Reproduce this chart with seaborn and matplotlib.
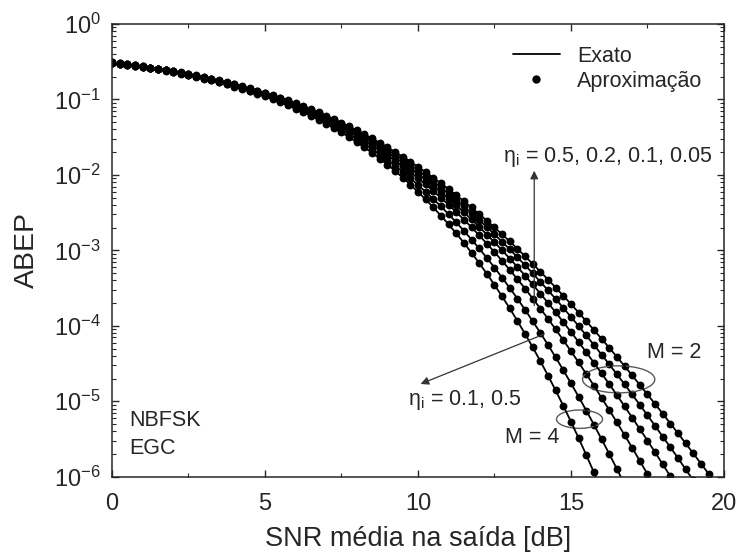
import matplotlib
matplotlib.use('Agg')
import matplotlib.pyplot as plt
import seaborn as sns
import pandas as pd
from matplotlib.patches import Ellipse
from matplotlib.lines import Line2D

sns.set_style('ticks')
plt.rcParams['font.family'] = ['Liberation Sans', 'DejaVu Sans']
plt.rcParams['mathtext.fontset'] = 'custom'
plt.rcParams['mathtext.rm'] = 'Liberation Sans'
plt.rcParams['mathtext.it'] = 'Liberation Sans'

# SNR grid (dB), one point every 0.25 dB
snr_db = [0.00, 0.25, 0.50, 0.75, 1.00, 1.25, 1.50, 1.75, 2.00, 2.25,
          2.50, 2.75, 3.00, 3.25, 3.50, 3.75, 4.00, 4.25, 4.50, 4.75,
          5.00, 5.25, 5.50, 5.75, 6.00, 6.25, 6.50, 6.75, 7.00, 7.25,
          7.50, 7.75, 8.00, 8.25, 8.50, 8.75, 9.00, 9.25, 9.50, 9.75,
          10.00, 10.25, 10.50, 10.75, 11.00, 11.25, 11.50, 11.75, 12.00, 12.25,
          12.50, 12.75, 13.00, 13.25, 13.50, 13.75, 14.00, 14.25, 14.50, 14.75,
          15.00, 15.25, 15.50, 15.75, 16.00, 16.25, 16.50, 16.75, 17.00, 17.25,
          17.50, 17.75, 18.00, 18.25, 18.50, 18.75, 19.00, 19.25, 19.50, 19.75,
          20.00]

# M = 4, eta_i = 0.5
abep_m4_eta05 = [3.05e-1, 2.97e-1, 2.88e-1, 2.79e-1, 2.69e-1, 2.60e-1, 2.50e-1, 2.40e-1, 2.30e-1, 2.20e-1,
                 2.10e-1, 2.00e-1, 1.89e-1, 1.79e-1, 1.69e-1, 1.58e-1, 1.48e-1, 1.38e-1, 1.29e-1, 1.19e-1,
                 1.10e-1, 1.01e-1, 9.18e-2, 8.35e-2, 7.55e-2, 6.79e-2, 6.07e-2, 5.39e-2, 4.76e-2, 4.18e-2,
                 3.65e-2, 3.16e-2, 2.71e-2, 2.31e-2, 1.96e-2, 1.64e-2, 1.37e-2, 1.13e-2, 9.21e-3, 7.45e-3,
                 5.94e-3, 4.73e-3, 3.71e-3, 2.88e-3, 2.21e-3, 1.68e-3, 1.26e-3, 9.29e-4, 6.79e-4, 4.90e-4,
                 3.49e-4, 2.45e-4, 1.70e-4, 1.16e-4, 7.82e-5, 5.19e-5, 3.40e-5, 2.19e-5, 1.39e-5, 8.70e-6,
                 5.36e-6, 3.25e-6, 1.94e-6, 1.14e-6, 6.63e-7]
# M = 4, eta_i = 0.1
abep_m4_eta01 = [3.06e-1, 2.98e-1, 2.89e-1, 2.80e-1, 2.70e-1, 2.61e-1, 2.51e-1, 2.42e-1, 2.32e-1, 2.22e-1,
                 2.12e-1, 2.02e-1, 1.91e-1, 1.81e-1, 1.71e-1, 1.61e-1, 1.51e-1, 1.41e-1, 1.31e-1, 1.22e-1,
                 1.13e-1, 1.04e-1, 9.50e-2, 8.67e-2, 7.87e-2, 7.11e-2, 6.39e-2, 5.71e-2, 5.08e-2, 4.49e-2,
                 3.94e-2, 3.44e-2, 2.99e-2, 2.57e-2, 2.20e-2, 1.87e-2, 1.58e-2, 1.32e-2, 1.10e-2, 9.03e-3,
                 7.35e-3, 5.98e-3, 4.80e-3, 3.82e-3, 3.01e-3, 2.35e-3, 1.82e-3, 1.39e-3, 1.06e-3, 7.95e-4,
                 5.91e-4, 4.35e-4, 3.17e-4, 2.29e-4, 1.63e-4, 1.15e-4, 8.06e-5, 5.58e-5, 3.82e-5, 2.58e-5,
                 1.73e-5, 1.15e-5, 7.54e-6, 4.90e-6, 3.15e-6, 2.01e-6, 1.27e-6, 7.90e-7]
# M = 2, eta_i = 0.5
abep_m2_eta05 = [3.07e-1, 2.99e-1, 2.90e-1, 2.81e-1, 2.72e-1, 2.63e-1, 2.53e-1, 2.43e-1, 2.34e-1, 2.24e-1,
                 2.14e-1, 2.04e-1, 1.94e-1, 1.84e-1, 1.74e-1, 1.64e-1, 1.54e-1, 1.44e-1, 1.34e-1, 1.25e-1,
                 1.16e-1, 1.07e-1, 9.84e-2, 9.01e-2, 8.21e-2, 7.45e-2, 6.73e-2, 6.05e-2, 5.42e-2, 4.82e-2,
                 4.27e-2, 3.75e-2, 3.29e-2, 2.86e-2, 2.47e-2, 2.13e-2, 1.82e-2, 1.54e-2, 1.30e-2, 1.09e-2,
                 9.02e-3, 7.46e-3, 6.11e-3, 4.97e-3, 4.02e-3, 3.22e-3, 2.56e-3, 2.02e-3, 1.58e-3, 1.23e-3,
                 9.49e-4, 7.26e-4, 5.51e-4, 4.15e-4, 3.11e-4, 2.30e-4, 1.69e-4, 1.24e-4, 8.97e-5, 6.45e-5,
                 4.61e-5, 3.27e-5, 2.30e-5, 1.61e-5, 1.11e-5, 7.68e-6, 5.26e-6, 3.58e-6, 2.42e-6, 1.62e-6,
                 1.08e-6, 7.19e-7]
# M = 2, eta_i = 0.2
abep_m2_eta02 = [3.08e-1, 2.99e-1, 2.91e-1, 2.82e-1, 2.73e-1, 2.64e-1, 2.54e-1, 2.45e-1, 2.35e-1, 2.25e-1,
                 2.15e-1, 2.05e-1, 1.95e-1, 1.85e-1, 1.75e-1, 1.66e-1, 1.56e-1, 1.46e-1, 1.37e-1, 1.27e-1,
                 1.18e-1, 1.09e-1, 1.01e-1, 9.25e-2, 8.46e-2, 7.70e-2, 6.98e-2, 6.30e-2, 5.66e-2, 5.06e-2,
                 4.50e-2, 3.98e-2, 3.51e-2, 3.07e-2, 2.68e-2, 2.32e-2, 2.00e-2, 1.71e-2, 1.45e-2, 1.23e-2,
                 1.03e-2, 8.63e-3, 7.17e-3, 5.91e-3, 4.85e-3, 3.95e-3, 3.19e-3, 2.57e-3, 2.05e-3, 1.62e-3,
                 1.28e-3, 1.00e-3, 7.79e-4, 6.02e-4, 4.62e-4, 3.53e-4, 2.67e-4, 2.01e-4, 1.51e-4, 1.12e-4,
                 8.29e-5, 6.10e-5, 4.46e-5, 3.24e-5, 2.34e-5, 1.69e-5, 1.21e-5, 8.58e-6, 6.08e-6, 4.28e-6,
                 3.01e-6, 2.10e-6, 1.46e-6, 1.01e-6, 6.97e-7]
# M = 2, eta_i = 0.1
abep_m2_eta01 = [3.09e-1, 3.00e-1, 2.92e-1, 2.83e-1, 2.74e-1, 2.65e-1, 2.55e-1, 2.46e-1, 2.36e-1, 2.26e-1,
                 2.17e-1, 2.07e-1, 1.97e-1, 1.87e-1, 1.77e-1, 1.67e-1, 1.58e-1, 1.48e-1, 1.39e-1, 1.29e-1,
                 1.20e-1, 1.12e-1, 1.03e-1, 9.48e-2, 8.69e-2, 7.93e-2, 7.21e-2, 6.53e-2, 5.88e-2, 5.28e-2,
                 4.72e-2, 4.19e-2, 3.71e-2, 3.27e-2, 2.86e-2, 2.49e-2, 2.16e-2, 1.86e-2, 1.60e-2, 1.36e-2,
                 1.15e-2, 9.75e-3, 8.18e-3, 6.82e-3, 5.66e-3, 4.66e-3, 3.82e-3, 3.12e-3, 2.53e-3, 2.03e-3,
                 1.63e-3, 1.30e-3, 1.03e-3, 8.10e-4, 6.35e-4, 4.95e-4, 3.83e-4, 2.96e-4, 2.27e-4, 1.73e-4,
                 1.31e-4, 9.92e-5, 7.46e-5, 5.58e-5, 4.16e-5, 3.09e-5, 2.28e-5, 1.68e-5, 1.23e-5, 8.96e-6,
                 6.51e-6, 4.72e-6, 3.40e-6, 2.45e-6, 1.76e-6, 1.25e-6, 8.94e-7]
# M = 2, eta_i = 0.05
abep_m2_eta005 = [3.09e-1, 3.01e-1, 2.92e-1, 2.83e-1, 2.75e-1, 2.65e-1, 2.56e-1, 2.47e-1, 2.37e-1, 2.28e-1,
                  2.18e-1, 2.08e-1, 1.98e-1, 1.88e-1, 1.79e-1, 1.69e-1, 1.59e-1, 1.50e-1, 1.40e-1, 1.31e-1,
                  1.22e-1, 1.14e-1, 1.05e-1, 9.69e-2, 8.90e-2, 8.14e-2, 7.42e-2, 6.74e-2, 6.09e-2, 5.49e-2,
                  4.92e-2, 4.39e-2, 3.90e-2, 3.45e-2, 3.04e-2, 2.66e-2, 2.32e-2, 2.02e-2, 1.74e-2, 1.50e-2,
                  1.28e-2, 1.09e-2, 9.20e-3, 7.75e-3, 6.49e-3, 5.41e-3, 4.48e-3, 3.70e-3, 3.03e-3, 2.48e-3,
                  2.01e-3, 1.63e-3, 1.31e-3, 1.05e-3, 8.34e-4, 6.62e-4, 5.22e-4, 4.10e-4, 3.21e-4, 2.50e-4,
                  1.94e-4, 1.50e-4, 1.15e-4, 8.82e-5, 6.73e-5, 5.12e-5, 3.88e-5, 2.93e-5, 2.20e-5, 1.65e-5,
                  1.23e-5, 9.20e-6, 6.84e-6, 5.07e-6, 3.75e-6, 2.76e-6, 2.03e-6, 1.49e-6, 1.09e-6, 7.96e-7]

curves = {'M=4, eta=0.5': abep_m4_eta05, 'M=4, eta=0.1': abep_m4_eta01,
          'M=2, eta=0.5': abep_m2_eta05, 'M=2, eta=0.2': abep_m2_eta02,
          'M=2, eta=0.1': abep_m2_eta01, 'M=2, eta=0.05': abep_m2_eta005}
df = pd.concat([pd.DataFrame({'snr': snr_db[:len(v)], 'abep': v, 'curve': k})
                for k, v in curves.items()], ignore_index=True)

fig = plt.figure(figsize=(7.41, 5.58), dpi=100)
ax = fig.add_axes([0.1511, 0.1457, 0.8259, 0.8113])
ax.set_yscale('log')

sns.lineplot(data=df, x='snr', y='abep', units='curve', estimator=None,
             color='black', lw=1.3, ax=ax, legend=False)
sns.scatterplot(data=df, x='snr', y='abep', color='black', s=32,
                linewidth=0, ax=ax, legend=False)

ax.set_xlim(0, 20)
ax.set_ylim(1e-6, 1)
ax.set_xticks([0, 5, 10, 15, 20])
ax.set_xticks([2.5, 7.5, 12.5, 17.5], minor=True)
ax.set_yticks([1e-6, 1e-5, 1e-4, 1e-3, 1e-2, 1e-1, 1])
ax.tick_params(which='both', direction='in', top=True, right=True, labelsize=17)
ax.tick_params(which='major', length=5, width=1)
ax.tick_params(which='minor', length=3, width=0.8)
ax.tick_params(axis='x', which='major', pad=12)
ax.tick_params(axis='y', which='major', pad=8)
for s in ax.spines.values():
    s.set_linewidth(1.1)
ax.set_xlabel('SNR média na saída [dB]', fontsize=19.5, labelpad=8)
ax.set_ylabel('ABEP', fontsize=20.5, labelpad=10)

handles = [Line2D([], [], color='black', lw=1.3),
           Line2D([], [], color='black', marker='o', ls='none', ms=5)]
ax.legend(handles, ['Exato', 'Aproximação'], loc='upper right', frameon=False,
          fontsize=15.5, handlelength=2.2, borderaxespad=0.6, labelspacing=0.2)

tf = ax.transAxes
ax.text(0.874, 0.274, 'M = 2', transform=tf, fontsize=15.5, va='center')
ax.text(0.642, 0.087, 'M = 4', transform=tf, fontsize=15.5, va='center')
ax.text(0.484, 0.169, r'$\mathrm{η_i}$ = 0.1, 0.5', transform=tf, fontsize=15.5, va='center')
ax.text(0.639, 0.707, r'$\mathrm{η_i}$ = 0.5, 0.2, 0.1, 0.05', transform=tf, fontsize=15.5, va='center')
ax.text(0.029, 0.125, 'NBFSK', transform=tf, fontsize=15.5, va='center')
ax.text(0.029, 0.063, 'EGC', transform=tf, fontsize=15.5, va='center')

ax.add_patch(Ellipse((0.828, 0.215), 0.118, 0.0597, transform=tf, fill=False, ec='0.35', lw=1))
ax.add_patch(Ellipse((0.764, 0.127), 0.0752, 0.0405, transform=tf, fill=False, ec='0.35', lw=1))
arrow = dict(arrowstyle='-|>', color='0.2', lw=0.9, mutation_scale=12)
ax.annotate('', xy=(0.690, 0.682), xytext=(0.690, 0.372), xycoords=tf, textcoords=tf, arrowprops=arrow)
ax.annotate('', xy=(0.500, 0.2026), xytext=(0.710, 0.317), xycoords=tf, textcoords=tf, arrowprops=arrow)

fig.savefig('out.png', dpi=100)
